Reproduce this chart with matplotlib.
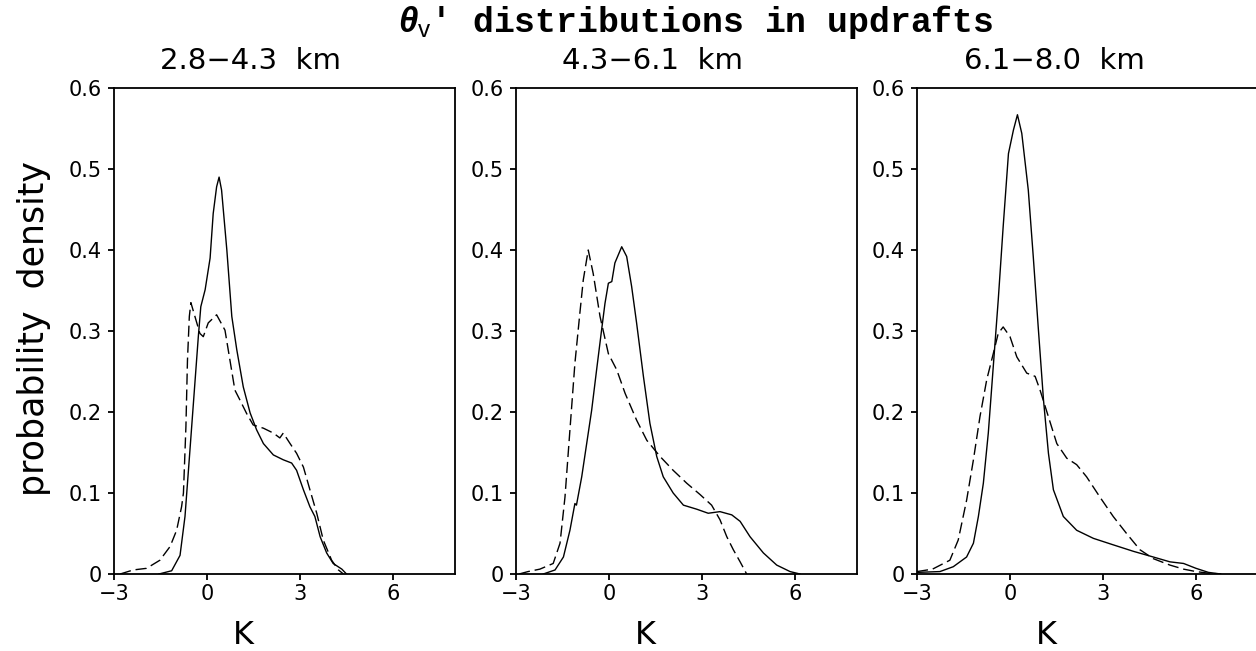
import numpy as np
import matplotlib
matplotlib.use("Agg")
import matplotlib.pyplot as plt

plt.rcParams["font.family"] = ["DejaVu Sans"]
plt.rcParams["mathtext.fontset"] = "custom"
plt.rcParams["mathtext.it"] = "Liberation Sans:italic:bold"
plt.rcParams["mathtext.rm"] = "Liberation Sans"

# layer labels
layers = ["2.8\u22124.3  km", "4.3\u22126.1  km", "6.1\u22128.0  km"]

# 2.8-4.3 km
x1_solid = [-1.55, -1.14, -0.87, -0.71, -0.55, -0.39, -0.28, -0.20, -0.06, 0.10, 0.20, 0.31, 0.39,
            0.47, 0.64, 0.80, 0.96, 1.17, 1.39, 1.60, 1.82, 2.14, 2.46, 2.73, 2.89, 3.11, 3.32,
            3.48, 3.65, 3.86, 4.07, 4.35, 4.50]
y1_solid = [0.0, 0.004, 0.023, 0.071, 0.153, 0.236, 0.293, 0.33, 0.351, 0.39, 0.445, 0.478, 0.49,
            0.474, 0.40, 0.318, 0.277, 0.231, 0.199, 0.178, 0.161, 0.147, 0.141, 0.137, 0.128, 0.104,
            0.083, 0.071, 0.046, 0.026, 0.013, 0.006, 0.0]
x1_dash = [-2.8, -2.38, -1.95, -1.52, -1.19, -0.98, -0.82, -0.76, -0.68, -0.63, -0.57, -0.52, -0.39,
           -0.23, -0.12, 0.04, 0.31, 0.58, 0.74, 0.90, 1.06, 1.28, 1.49, 1.82, 2.14, 2.35, 2.46,
           2.68, 2.89, 3.11, 3.32, 3.54, 3.75, 4.02, 4.24, 4.40]
y1_dash = [0.0, 0.005, 0.007, 0.017, 0.034, 0.054, 0.083, 0.10, 0.182, 0.264, 0.318, 0.335, 0.318,
           0.297, 0.293, 0.31, 0.32, 0.301, 0.264, 0.227, 0.215, 0.198, 0.184, 0.18, 0.174, 0.168,
           0.174, 0.161, 0.149, 0.132, 0.104, 0.075, 0.042, 0.017, 0.005, 0.0]

# 4.3-6.1 km
x2_solid = [-2.12, -1.74, -1.47, -1.26, -1.10, -1.05, -0.88, -0.72, -0.56, -0.40, -0.24, -0.13,
            -0.02, 0.09, 0.19, 0.41, 0.57, 0.73, 0.89, 1.11, 1.32, 1.54, 1.75, 2.07, 2.40, 2.83,
            3.20, 3.58, 3.96, 4.23, 4.55, 4.98, 5.41, 5.84, 6.16]
y2_solid = [0.0, 0.005, 0.021, 0.054, 0.087, 0.085, 0.12, 0.161, 0.202, 0.252, 0.301, 0.334,
            0.359, 0.361, 0.384, 0.404, 0.392, 0.355, 0.31, 0.244, 0.186, 0.145, 0.12, 0.10, 0.085,
            0.08, 0.075, 0.077, 0.073, 0.065, 0.046, 0.026, 0.011, 0.003, 0.0]
x2_dash = [-2.9, -2.61, -2.23, -1.80, -1.58, -1.42, -1.26, -1.10, -0.94, -0.83, -0.67, -0.51, -0.29,
           -0.02, 0.25, 0.52, 0.89, 1.22, 1.65, 2.07, 2.51, 2.94, 3.31, 3.58, 3.80, 4.01, 4.23, 4.44]
y2_dash = [0.0, 0.003, 0.006, 0.013, 0.038, 0.095, 0.178, 0.26, 0.322, 0.363, 0.40, 0.371, 0.318,
           0.272, 0.252, 0.223, 0.19, 0.165, 0.145, 0.128, 0.112, 0.098, 0.085, 0.067, 0.046, 0.03,
           0.015, 0.0]

# 6.1-8.0 km
x3_solid = [-3.0, -2.26, -1.83, -1.40, -1.18, -1.02, -0.86, -0.70, -0.54, -0.38, -0.22, -0.05, 0.11,
            0.24, 0.38, 0.59, 0.75, 0.91, 1.08, 1.24, 1.40, 1.72, 2.15, 2.69, 3.33, 3.98, 4.62,
            5.16, 5.6, 6.0, 6.4, 6.8]
y3_solid = [0.002, 0.003, 0.009, 0.021, 0.038, 0.071, 0.112, 0.174, 0.256, 0.338, 0.429, 0.519,
            0.548, 0.567, 0.544, 0.474, 0.392, 0.305, 0.215, 0.149, 0.104, 0.071, 0.054, 0.044,
            0.036, 0.028, 0.021, 0.015, 0.013, 0.007, 0.002, 0.0]
x3_dash = [-3.0, -2.5, -1.94, -1.67, -1.40, -1.18, -0.97, -0.75, -0.54, -0.38, -0.22, 0.0, 0.22,
           0.54, 0.81, 0.97, 1.24, 1.51, 1.83, 2.15, 2.47, 2.90, 3.33, 3.76, 4.19, 4.62, 5.16,
           5.6, 6.0, 6.4, 6.8]
y3_dash = [0.003, 0.006, 0.017, 0.042, 0.091, 0.141, 0.194, 0.24, 0.272, 0.297, 0.305, 0.293,
           0.268, 0.248, 0.244, 0.227, 0.194, 0.161, 0.143, 0.135, 0.12, 0.095, 0.071, 0.05, 0.03,
           0.019, 0.011, 0.006, 0.003, 0.001, 0.0]

panels = [
    (x1_solid, y1_solid, x1_dash, y1_dash),
    (x2_solid, y2_solid, x2_dash, y2_dash),
    (x3_solid, y3_solid, x3_dash, y3_dash),
]

W, H = 1256, 651
fig = plt.figure(figsize=(W / 100, H / 100), dpi=100)

lefts = [114, 516, 917]
ax_w, ax_top, ax_bot = 341, 88, 574

for i, (xs, ys, xd, yd) in enumerate(panels):
    left = lefts[i]
    ax = fig.add_axes([left / W, 1 - ax_bot / H, ax_w / W, (ax_bot - ax_top) / H])
    ax.plot(xs, ys, color="black", lw=1.0)
    ax.plot(xd, yd, color="black", lw=1.0, dashes=(8, 3.5))
    ax.set_xlim(-3, 8)
    ax.set_ylim(0, 0.6)
    ax.set_xticks([-3, 0, 3, 6])
    ax.set_xticklabels(["\u22123", "0", "3", "6"])
    ax.set_yticks([0, 0.1, 0.2, 0.3, 0.4, 0.5, 0.6])
    ax.set_yticklabels(["0", "0.1", "0.2", "0.3", "0.4", "0.5", "0.6"])
    ax.tick_params(direction="out", length=4.5, width=1.3, labelsize=15, pad=3)
    ax.tick_params(axis="y", pad=4)
    for sp in ax.spines.values():
        sp.set_linewidth(1.3)

    cx = left + 137
    fig.text(cx / W, 1 - 61 / H, layers[i], ha="center", va="center", fontsize=21)
    fig.text((left + 129) / W, 1 - 636 / H, "K", ha="center", va="center", fontsize=23)

fig.text(34 / W, 1 - 328 / H, "probability  density", rotation=90, ha="center", va="center",
         fontsize=25)
fig.text(398 / W, 1 - 22 / H, r"$\theta_\mathrm{v}$' distributions in updrafts",
         ha="left", va="center", fontsize=25, family="Liberation Mono", weight="bold")

fig.savefig("out.png", dpi=100)
